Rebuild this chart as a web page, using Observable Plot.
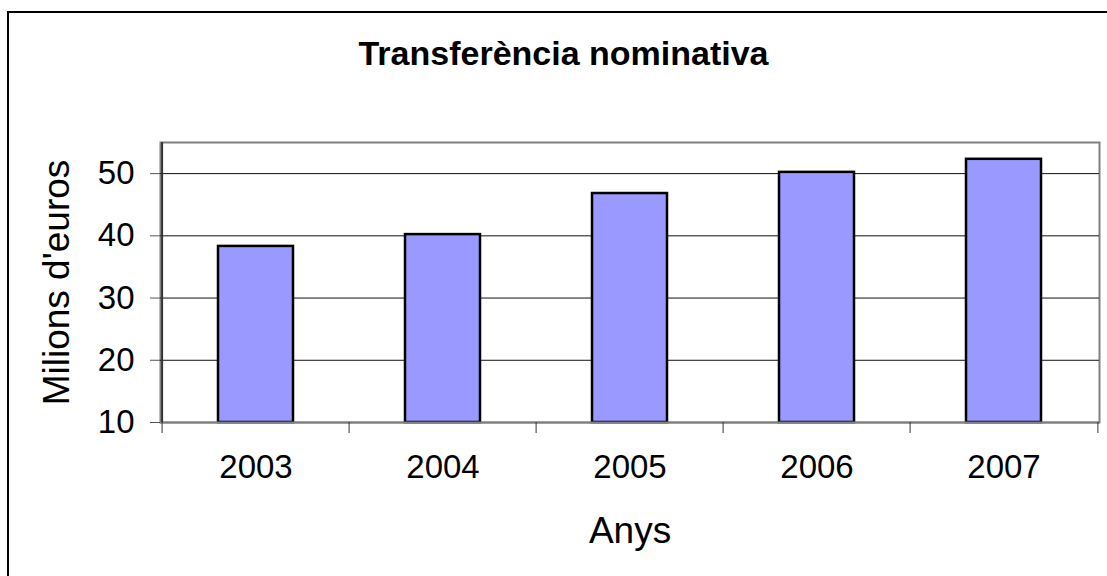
<!DOCTYPE html>
<html>
<head>
<meta charset="utf-8">
<script src="https://cdn.jsdelivr.net/npm/d3@7"></script>
<script src="https://cdn.jsdelivr.net/npm/@observablehq/plot@0.6"></script>
<style>
  body { margin: 0; background: #fff; }
  #wrap { position: relative; width: 1107px; height: 576px; overflow: hidden; background: #fff;
          font-family: "Liberation Sans", Arial, sans-serif; }
  #border { position: absolute; left: 7px; top: 11px; width: 2000px; height: 2000px;
            border-left: 2px solid #000; border-top: 2px solid #000; }
  #title { position: absolute; left: 10px; width: 1107px; top: 36px; text-align: center;
           font-weight: bold; font-size: 34px; line-height: 1; color: #000; }
  #chart { position: absolute; left: 0; top: 0; }
</style>
</head>
<body>
<div id="wrap">
  <div id="border"></div>
  <div id="title">Transferència nominativa</div>
  <div id="chart"></div>
</div>
<script>
const years = ["2003", "2004", "2005", "2006", "2007"];
const values = [38.3, 40.2, 46.8, 50.2, 52.3];
const yTicks = [10, 20, 30, 40, 50];
const gridValues = [20, 30, 40, 50];
const yDomain = [10, 55];
const xLabel = "Anys";
const yLabel = "Milions d'euros";

const data = years.map((year, i) => ({ year, value: values[i] }));

const W = 1107, H = 576;
const mL = 160, mR = 8, mT = 142, mB = 154;
const bw = (W - mL - mR) / years.length;

const chart = Plot.plot({
  width: W,
  height: H,
  marginLeft: mL,
  marginRight: mR,
  marginTop: mT,
  marginBottom: mB,
  style: { fontFamily: "'Liberation Sans', Arial, sans-serif", background: "transparent", color: "#000" },
  x: { type: "band", domain: years, paddingInner: 0.6, paddingOuter: 0.3, label: null },
  y: { domain: yDomain, ticks: yTicks, label: null },
  marks: [
    Plot.frame({ stroke: "#808080", strokeWidth: 2 }),
    Plot.ruleY(gridValues, { stroke: "#111", strokeWidth: 1 }),
    Plot.barY(data, { x: "year", y1: yDomain[0], y2: "value", fill: "#9999ff", stroke: "#000", strokeWidth: 2.5 }),
    Plot.ruleY([yDomain[0]], { stroke: "#808080", strokeWidth: 2 }),
    Plot.ruleX([years[0]], { x: d => d, dx: -bw / 2, stroke: "#333", strokeWidth: 2 }),
    Plot.ruleX(years, { x: d => d, y1: yDomain[0], y2: yDomain[0], insetBottom: -11, dx: -bw / 2, stroke: "#333", strokeWidth: 1 }),
    Plot.ruleX([years[years.length - 1]], { x: d => d, y1: yDomain[0], y2: yDomain[0], insetBottom: -11, dx: bw / 2, stroke: "#333", strokeWidth: 1 }),
    Plot.axisY({ ticks: yTicks, tickSize: 10, tickPadding: 16, fontSize: 33, stroke: "#555", label: null, tickFormat: d => String(d) }),
    Plot.axisX({ tickSize: 0, tickPadding: 32, fontSize: 33, label: null }),
    Plot.text([xLabel], { frameAnchor: "bottom", lineAnchor: "top", dy: 94, fontSize: 37, fill: "#000" }),
    Plot.text([yLabel], { frameAnchor: "left", rotate: -90, textAnchor: "middle", lineAnchor: "middle", dx: -103, fontSize: 37, fill: "#000" })
  ]
});
document.getElementById("chart").appendChild(chart);
</script>
</body>
</html>
